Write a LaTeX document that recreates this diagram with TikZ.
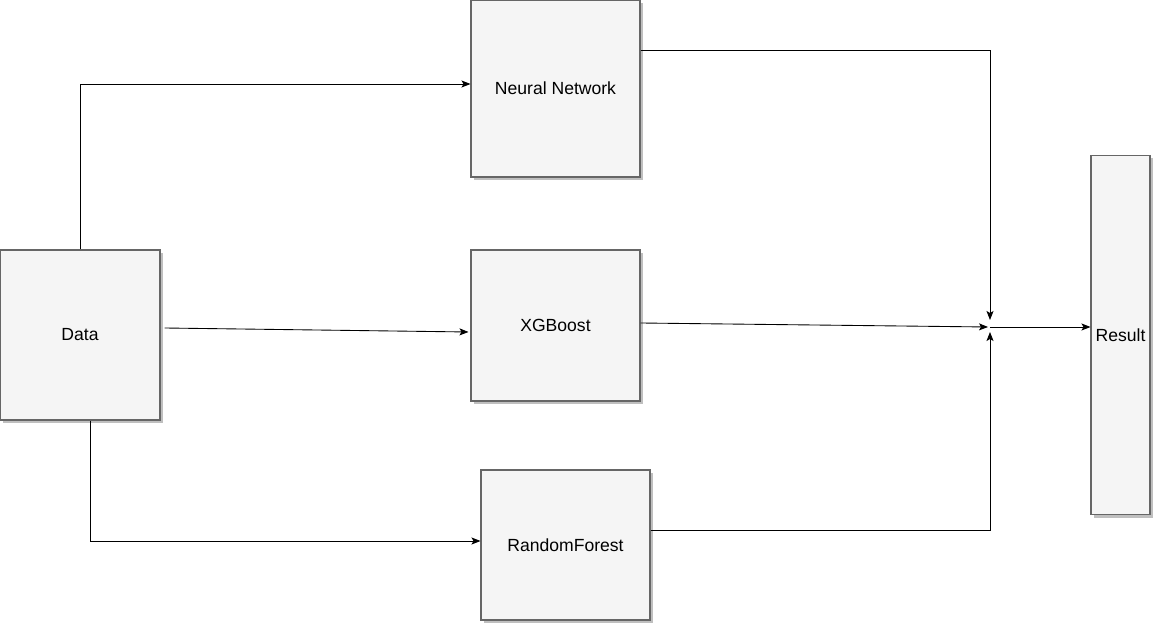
\documentclass[tikz,border=0pt]{standalone}
\usepackage{fontspec}
\setmainfont{Liberation Sans}
\usepackage{tikz}
\usetikzlibrary{shadows, arrows.meta}
\definecolor{boxfill}{HTML}{F5F5F5}
\definecolor{boxline}{HTML}{666666}

\begin{document}
\begin{tikzpicture}[
    x=0.02cm, y=-0.02cm,
    box/.style={rectangle, draw=boxline, fill=boxfill, line width=0.6pt, inner sep=0pt, font=\fontsize{10}{12}\selectfont,
        drop shadow={shadow xshift=0.06cm, shadow yshift=-0.06cm, fill=black, opacity=0.25}},
    conn/.style={->, >={Stealth[length=0.18cm, width=0.14cm, inset=0.04cm]}, line width=0.5pt}
]
    \useasboundingbox (0,0) rectangle (1153,624);
    \node[box, minimum width=3.2cm, minimum height=3.4cm] (data) at (80,335) {Data};
    \node[box, minimum width=3.38cm, minimum height=3.54cm] (nn) at (555.5,88.5) {Neural Network};
    \node[box, minimum width=3.38cm, minimum height=3.02cm] (xgb) at (555.5,325.5) {XGBoost};
    \node[box, minimum width=3.38cm, minimum height=3cm] (rf) at (565.5,545) {RandomForest};
    \node[box, minimum width=1.18cm, minimum height=7.2cm] (result) at (1120.5,335) {Result};
    \coordinate (j) at (990,327);
    \draw[conn] (data.north) |- ([yshift=0.09cm]nn.west);
    \draw[conn] ([xshift=0.08cm,yshift=0.14cm]data.east) -- ([xshift=-0.04cm,yshift=-0.13cm]xgb.west);
    \draw[conn] ([xshift=0.2cm]data.south) |- ([yshift=0.08cm]rf.west);
    \draw[conn] ([yshift=0.77cm]nn.east) -| ([yshift=0.14cm]j);
    \draw[conn] ([yshift=0.05cm]xgb.east) -- ([xshift=-0.04cm]j);
    \draw[conn] ([yshift=0.3cm]rf.east) -| ([yshift=-0.1cm]j);
    \draw[conn] (j) -- (result.west |- j);
\end{tikzpicture}
\end{document}
